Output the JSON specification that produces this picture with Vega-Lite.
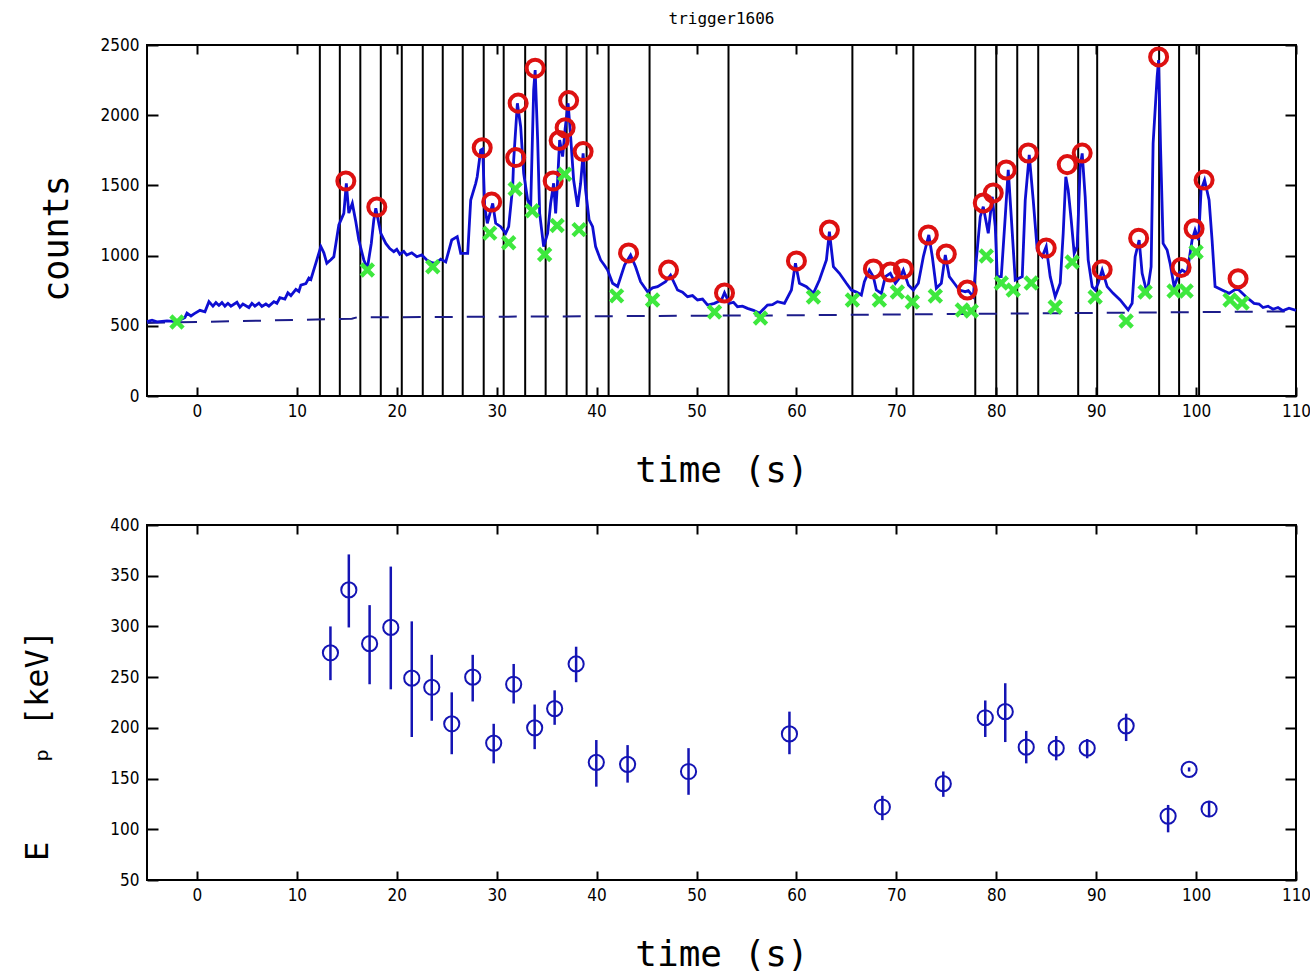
{
  "$schema": "https://vega.github.io/schema/vega-lite/v6.json",
  "padding": {"left": 20, "top": 10, "right": 4, "bottom": 4},
  "bounds": "flush",
  "spacing": 129,
  "background": "white",
  "config": {
    "view": {"stroke": "black", "strokeWidth": 2},
    "axis": {
      "domain": false, "grid": false, "tickColor": "black", "tickWidth": 2, "tickSize": -9,
      "labelFont": "Liberation Sans Narrow, DejaVu Sans Condensed, DejaVu Sans Mono",
      "labelFontSize": 17, "labelColor": "black", "labelFlush": false, "labelOverlap": false, "format": "d",
      "titleFont": "DejaVu Sans Mono", "titleFontWeight": "normal", "titleColor": "black"
    },
    "title": {"font": "DejaVu Sans Mono", "fontSize": 16, "fontWeight": "normal", "color": "black"}
  },
  "datasets": {
    "lc": [
      {"t": -5, "c": 530}, {"t": -4.5, "c": 540}, {"t": -4, "c": 528}, {"t": -3, "c": 535}, {"t": -2, "c": 530}, {"t": -1.2, "c": 560},
      {"t": -1.0, "c": 590}, {"t": -0.6, "c": 570}, {"t": -0.3, "c": 585}, {"t": 0.3, "c": 610}, {"t": 0.8, "c": 600}, {"t": 1.2, "c": 672},
      {"t": 1.6, "c": 640}, {"t": 1.9, "c": 665}, {"t": 2.2, "c": 645}, {"t": 2.5, "c": 665}, {"t": 2.8, "c": 640}, {"t": 3.1, "c": 660}, {"t": 3.4, "c": 640}, {"t": 4.0, "c": 668},
      {"t": 4.3, "c": 632}, {"t": 4.6, "c": 655}, {"t": 5.2, "c": 630}, {"t": 5.5, "c": 660}, {"t": 5.8, "c": 640}, {"t": 6.2, "c": 662}, {"t": 6.5, "c": 638}, {"t": 6.9, "c": 655}, {"t": 7.2, "c": 640},
      {"t": 7.7, "c": 672}, {"t": 8.0, "c": 660}, {"t": 8.3, "c": 700}, {"t": 8.8, "c": 690}, {"t": 9.1, "c": 735}, {"t": 9.4, "c": 715}, {"t": 9.9, "c": 760},
      {"t": 10.2, "c": 745}, {"t": 10.4, "c": 790}, {"t": 10.9, "c": 800}, {"t": 11.2, "c": 840}, {"t": 11.4, "c": 830}, {"t": 11.9, "c": 946}, {"t": 12.4, "c": 1064},
      {"t": 12.7, "c": 1020}, {"t": 13.0, "c": 945}, {"t": 13.4, "c": 970}, {"t": 13.7, "c": 992}, {"t": 14.2, "c": 1218},
      {"t": 14.7, "c": 1301}, {"t": 14.95, "c": 1515}, {"t": 15.2, "c": 1303}, {"t": 15.55, "c": 1372}, {"t": 15.9, "c": 1241},
      {"t": 16.2, "c": 1111}, {"t": 16.7, "c": 969}, {"t": 17.05, "c": 909}, {"t": 17.45, "c": 1087}, {"t": 17.7, "c": 1254},
      {"t": 17.9, "c": 1337}, {"t": 18.4, "c": 1159}, {"t": 18.9, "c": 1087}, {"t": 19.3, "c": 1050}, {"t": 19.7, "c": 1028},
      {"t": 20.0, "c": 1045}, {"t": 20.3, "c": 1010}, {"t": 20.7, "c": 1030}, {"t": 21.0, "c": 1004}, {"t": 21.5, "c": 1020}, {"t": 22.0, "c": 992}, {"t": 22.5, "c": 1005},
      {"t": 23.0, "c": 969}, {"t": 23.5, "c": 950}, {"t": 23.9, "c": 945}, {"t": 24.4, "c": 975}, {"t": 24.9, "c": 955},
      {"t": 25.5, "c": 1111}, {"t": 26.05, "c": 1135}, {"t": 26.4, "c": 1016}, {"t": 27.1, "c": 1016}, {"t": 27.4, "c": 1396},
      {"t": 27.9, "c": 1515}, {"t": 28.05, "c": 1562}, {"t": 28.4, "c": 1752}, {"t": 28.6, "c": 1760}, {"t": 28.8, "c": 1348},
      {"t": 29.06, "c": 1230}, {"t": 29.6, "c": 1372}, {"t": 29.9, "c": 1230}, {"t": 30.4, "c": 1206}, {"t": 30.9, "c": 1159},
      {"t": 31.2, "c": 1206}, {"t": 31.6, "c": 1491}, {"t": 31.7, "c": 1681}, {"t": 32.07, "c": 2085}, {"t": 32.4, "c": 1918},
      {"t": 32.7, "c": 1586}, {"t": 33.1, "c": 1396}, {"t": 33.4, "c": 1348}, {"t": 33.7, "c": 2179}, {"t": 33.85, "c": 2322},
      {"t": 34.1, "c": 1823}, {"t": 34.3, "c": 1301}, {"t": 34.7, "c": 1064}, {"t": 35.1, "c": 1159}, {"t": 35.4, "c": 1372},
      {"t": 35.7, "c": 1515}, {"t": 35.9, "c": 1301}, {"t": 36.1, "c": 1538}, {"t": 36.3, "c": 1823}, {"t": 36.6, "c": 1705},
      {"t": 36.85, "c": 1905}, {"t": 37.15, "c": 2085}, {"t": 37.4, "c": 1847}, {"t": 37.7, "c": 1538}, {"t": 38.1, "c": 1348},
      {"t": 38.4, "c": 1515}, {"t": 38.65, "c": 1728}, {"t": 38.9, "c": 1467}, {"t": 39.25, "c": 1254}, {"t": 39.6, "c": 1206},
      {"t": 39.9, "c": 1064}, {"t": 40.4, "c": 969}, {"t": 40.8, "c": 930}, {"t": 41.1, "c": 897}, {"t": 41.6, "c": 803}, {"t": 42.1, "c": 780},
      {"t": 42.8, "c": 933}, {"t": 43.4, "c": 1004}, {"t": 43.9, "c": 921}, {"t": 44.4, "c": 814}, {"t": 45.1, "c": 743},
      {"t": 45.6, "c": 770}, {"t": 46.1, "c": 779}, {"t": 46.9, "c": 814}, {"t": 47.4, "c": 860}, {"t": 48.1, "c": 755}, {"t": 48.6, "c": 740}, {"t": 49.1, "c": 707},
      {"t": 49.6, "c": 715}, {"t": 50.1, "c": 684}, {"t": 50.6, "c": 690}, {"t": 51.1, "c": 648}, {"t": 51.8, "c": 660}, {"t": 52.5, "c": 684}, {"t": 52.8, "c": 735},
      {"t": 53.3, "c": 660}, {"t": 53.7, "c": 668}, {"t": 54.1, "c": 636}, {"t": 54.6, "c": 640}, {"t": 55.1, "c": 624}, {"t": 55.7, "c": 610}, {"t": 56.3, "c": 589}, {"t": 57.1, "c": 648},
      {"t": 57.6, "c": 650}, {"t": 58.1, "c": 672}, {"t": 58.8, "c": 660}, {"t": 59.5, "c": 755}, {"t": 59.9, "c": 945}, {"t": 60.3, "c": 803},
      {"t": 61.0, "c": 779}, {"t": 61.7, "c": 731}, {"t": 62.3, "c": 826}, {"t": 63.0, "c": 969}, {"t": 63.3, "c": 1170},
      {"t": 63.7, "c": 921}, {"t": 64.3, "c": 874}, {"t": 65.0, "c": 803}, {"t": 65.5, "c": 755}, {"t": 66.0, "c": 740}, {"t": 66.5, "c": 719},
      {"t": 66.8, "c": 814}, {"t": 67.3, "c": 897}, {"t": 67.7, "c": 850}, {"t": 68.0, "c": 755}, {"t": 68.5, "c": 731},
      {"t": 68.9, "c": 850}, {"t": 69.4, "c": 874}, {"t": 69.9, "c": 803}, {"t": 70.4, "c": 850}, {"t": 70.7, "c": 897},
      {"t": 71.2, "c": 791}, {"t": 71.7, "c": 755}, {"t": 72.2, "c": 803}, {"t": 72.7, "c": 992}, {"t": 73.25, "c": 1147},
      {"t": 73.6, "c": 992}, {"t": 74.0, "c": 767}, {"t": 74.5, "c": 803}, {"t": 74.9, "c": 1004}, {"t": 75.3, "c": 850},
      {"t": 75.8, "c": 803}, {"t": 76.3, "c": 755}, {"t": 76.9, "c": 743}, {"t": 77.2, "c": 750}, {"t": 77.7, "c": 707},
      {"t": 78.0, "c": 969}, {"t": 78.4, "c": 1277}, {"t": 78.7, "c": 1348}, {"t": 79.2, "c": 1159}, {"t": 79.6, "c": 1419},
      {"t": 79.9, "c": 1206}, {"t": 80.1, "c": 850}, {"t": 80.5, "c": 850}, {"t": 80.9, "c": 1277}, {"t": 81.2, "c": 1610},
      {"t": 81.5, "c": 1277}, {"t": 81.9, "c": 826}, {"t": 82.6, "c": 850}, {"t": 82.9, "c": 1396}, {"t": 83.3, "c": 1717},
      {"t": 83.7, "c": 1396}, {"t": 84.1, "c": 1040}, {"t": 84.6, "c": 992}, {"t": 85.0, "c": 1064}, {"t": 85.4, "c": 850},
      {"t": 85.9, "c": 707}, {"t": 86.4, "c": 803}, {"t": 86.7, "c": 1159}, {"t": 86.96, "c": 1562}, {"t": 87.2, "c": 1467},
      {"t": 87.5, "c": 1254}, {"t": 87.8, "c": 1016}, {"t": 88.1, "c": 1064}, {"t": 88.4, "c": 1633}, {"t": 88.6, "c": 1728},
      {"t": 88.9, "c": 1420}, {"t": 89.2, "c": 969}, {"t": 89.6, "c": 779}, {"t": 89.9, "c": 755}, {"t": 90.2, "c": 803},
      {"t": 90.6, "c": 897}, {"t": 91.1, "c": 779}, {"t": 91.7, "c": 731}, {"t": 92.4, "c": 684}, {"t": 93.2, "c": 613},
      {"t": 93.6, "c": 660}, {"t": 93.9, "c": 992}, {"t": 94.3, "c": 1111}, {"t": 94.6, "c": 874}, {"t": 95.1, "c": 731},
      {"t": 95.5, "c": 921}, {"t": 95.7, "c": 1800}, {"t": 96.1, "c": 2274}, {"t": 96.25, "c": 2393}, {"t": 96.45, "c": 1752},
      {"t": 96.7, "c": 1087}, {"t": 97.1, "c": 1040}, {"t": 97.4, "c": 945}, {"t": 97.8, "c": 779}, {"t": 98.3, "c": 874},
      {"t": 98.6, "c": 897}, {"t": 99.1, "c": 874}, {"t": 99.6, "c": 1111}, {"t": 99.9, "c": 1182}, {"t": 100.25, "c": 1111},
      {"t": 100.5, "c": 1467}, {"t": 100.85, "c": 1538}, {"t": 101.3, "c": 1396}, {"t": 101.6, "c": 1111}, {"t": 101.9, "c": 779},
      {"t": 102.6, "c": 755}, {"t": 103.3, "c": 731}, {"t": 104.1, "c": 767}, {"t": 105.0, "c": 707}, {"t": 105.8, "c": 660},
      {"t": 106.3, "c": 655}, {"t": 106.7, "c": 630}, {"t": 107.2, "c": 640}, {"t": 107.7, "c": 618}, {"t": 108.2, "c": 630}, {"t": 108.7, "c": 608}, {"t": 109.3, "c": 625}, {"t": 110, "c": 610}
    ],
    "base": [
      {"t": -5, "c": 520}, {"t": 15.5, "c": 550}, {"t": 16.0, "c": 560}, {"t": 60, "c": 575}, {"t": 110, "c": 603}
    ],
    "peaks": [
      {"t": 14.9, "c": 1531}, {"t": 18.0, "c": 1346}, {"t": 28.55, "c": 1768}, {"t": 29.5, "c": 1381}, {"t": 31.9, "c": 1698},
      {"t": 32.15, "c": 2086}, {"t": 33.85, "c": 2335}, {"t": 35.65, "c": 1531}, {"t": 36.25, "c": 1820}, {"t": 36.85, "c": 1911},
      {"t": 37.2, "c": 2104}, {"t": 38.65, "c": 1741}, {"t": 43.2, "c": 1019}, {"t": 47.2, "c": 897}, {"t": 52.8, "c": 734},
      {"t": 60.0, "c": 962}, {"t": 63.3, "c": 1182}, {"t": 67.7, "c": 905}, {"t": 69.4, "c": 883}, {"t": 70.7, "c": 905},
      {"t": 73.2, "c": 1147}, {"t": 75.0, "c": 1011}, {"t": 77.1, "c": 755}, {"t": 78.7, "c": 1375}, {"t": 79.7, "c": 1446},
      {"t": 81.0, "c": 1610}, {"t": 83.2, "c": 1731}, {"t": 85.0, "c": 1054}, {"t": 87.1, "c": 1648}, {"t": 88.6, "c": 1730},
      {"t": 90.6, "c": 900}, {"t": 94.25, "c": 1124}, {"t": 96.25, "c": 2415}, {"t": 98.5, "c": 916}, {"t": 99.8, "c": 1191},
      {"t": 100.8, "c": 1538}, {"t": 104.2, "c": 835}
    ],
    "valleys": [
      {"t": -2.0, "c": 527}, {"t": 17.05, "c": 897}, {"t": 23.6, "c": 920}, {"t": 29.3, "c": 1160}, {"t": 31.2, "c": 1092},
      {"t": 31.85, "c": 1474}, {"t": 33.55, "c": 1319}, {"t": 34.8, "c": 1008}, {"t": 36.05, "c": 1215}, {"t": 36.8, "c": 1580},
      {"t": 38.25, "c": 1185}, {"t": 42.0, "c": 713}, {"t": 45.6, "c": 684}, {"t": 51.8, "c": 598}, {"t": 56.4, "c": 556},
      {"t": 61.7, "c": 705}, {"t": 65.6, "c": 684}, {"t": 68.3, "c": 684}, {"t": 70.1, "c": 741}, {"t": 71.6, "c": 669},
      {"t": 73.9, "c": 712}, {"t": 76.6, "c": 613}, {"t": 77.5, "c": 605}, {"t": 79.0, "c": 997}, {"t": 80.5, "c": 805},
      {"t": 81.7, "c": 755}, {"t": 83.5, "c": 805}, {"t": 85.9, "c": 634}, {"t": 87.6, "c": 954}, {"t": 89.9, "c": 705},
      {"t": 93.0, "c": 534}, {"t": 94.9, "c": 741}, {"t": 97.8, "c": 748}, {"t": 99.0, "c": 748}, {"t": 100.0, "c": 1026},
      {"t": 103.4, "c": 684}, {"t": 104.6, "c": 662}
    ],
    "bounds": [
      {"t": 12.3}, {"t": 14.3}, {"t": 16.35}, {"t": 18.4}, {"t": 20.5}, {"t": 22.6}, {"t": 24.6}, {"t": 26.6},
      {"t": 28.7}, {"t": 30.7}, {"t": 32.85}, {"t": 34.9}, {"t": 37.0}, {"t": 39.0}, {"t": 41.2}, {"t": 45.3},
      {"t": 53.2}, {"t": 65.6}, {"t": 71.7}, {"t": 77.9}, {"t": 80.0}, {"t": 82.1}, {"t": 84.2}, {"t": 88.2},
      {"t": 90.1}, {"t": 96.3}, {"t": 98.3}, {"t": 100.3}
    ],
    "ep": [
      {"t": 13.36, "ep": 274, "lo": 247, "hi": 300}, {"t": 15.2, "ep": 336, "lo": 299, "hi": 371},
      {"t": 17.28, "ep": 283, "lo": 243, "hi": 321}, {"t": 19.4, "ep": 299, "lo": 238, "hi": 359},
      {"t": 21.5, "ep": 249, "lo": 191, "hi": 305}, {"t": 23.5, "ep": 240, "lo": 207, "hi": 272},
      {"t": 25.5, "ep": 204, "lo": 174, "hi": 235}, {"t": 27.6, "ep": 250, "lo": 226, "hi": 272},
      {"t": 29.7, "ep": 185, "lo": 165, "hi": 204}, {"t": 31.7, "ep": 243, "lo": 224, "hi": 263},
      {"t": 33.8, "ep": 200, "lo": 179, "hi": 223}, {"t": 35.8, "ep": 219, "lo": 203, "hi": 237},
      {"t": 37.95, "ep": 263, "lo": 245, "hi": 280}, {"t": 39.97, "ep": 166, "lo": 142, "hi": 188},
      {"t": 43.1, "ep": 164, "lo": 146, "hi": 183}, {"t": 49.2, "ep": 157, "lo": 134, "hi": 180},
      {"t": 59.3, "ep": 194, "lo": 174, "hi": 216}, {"t": 68.6, "ep": 122, "lo": 109, "hi": 133},
      {"t": 74.7, "ep": 145, "lo": 132, "hi": 157}, {"t": 78.9, "ep": 210, "lo": 191, "hi": 227},
      {"t": 80.9, "ep": 216, "lo": 186, "hi": 244}, {"t": 83.0, "ep": 181, "lo": 165, "hi": 197},
      {"t": 86.0, "ep": 180, "lo": 168, "hi": 192}, {"t": 89.1, "ep": 180, "lo": 170, "hi": 189},
      {"t": 93.0, "ep": 202, "lo": 187, "hi": 214}, {"t": 97.2, "ep": 113, "lo": 97, "hi": 124},
      {"t": 99.3, "ep": 159, "lo": 157, "hi": 161}, {"t": 101.3, "ep": 120, "lo": 112, "hi": 128}
    ]
  },
  "vconcat": [
    {
      "width": 1149,
      "height": 351,
      "title": {"text": "trigger1606", "offset": 9},
      "resolve": {"axis": {"x": "independent", "y": "independent"}},
      "layer": [
        {
          "data": {"name": "bounds"},
          "mark": {"type": "rule", "color": "black", "strokeWidth": 2},
          "encoding": {
            "x": {"field": "t", "type": "quantitative", "scale": {"domain": [-5, 110], "nice": false, "zero": false},
                  "axis": {"orient": "top", "labels": false, "title": null, "values": [0, 10, 20, 30, 40, 50, 60, 70, 80, 90, 100, 110]}}
          }
        },
        {
          "data": {"name": "base"},
          "mark": {"type": "line", "color": "#1c1c8a", "strokeWidth": 2, "strokeDash": [18, 14]},
          "encoding": {
            "x": {"field": "t", "type": "quantitative", "axis": null},
            "y": {"field": "c", "type": "quantitative", "scale": {"domain": [0, 2500], "nice": false, "zero": false},
                  "axis": {"orient": "right", "labels": false, "title": null, "values": [0, 500, 1000, 1500, 2000, 2500], "tickSize": -11}}
          }
        },
        {
          "data": {"name": "lc"},
          "mark": {"type": "line", "color": "#0e0ed2", "strokeWidth": 2.8},
          "encoding": {
            "x": {"field": "t", "type": "quantitative",
                  "axis": {"orient": "bottom", "title": "time\u00a0(s)", "titleFontSize": 36, "titlePadding": 34, "labelPadding": 16, "values": [0, 10, 20, 30, 40, 50, 60, 70, 80, 90, 100, 110]}},
            "y": {"field": "c", "type": "quantitative",
                  "axis": {"orient": "left", "title": "counts", "titleFontSize": 35, "titleX": -73, "titleY": 193, "labelPadding": 19, "tickSize": -11, "values": [0, 500, 1000, 1500, 2000, 2500]}}
          }
        },
        {
          "data": {"name": "peaks"},
          "mark": {"type": "point", "shape": "circle", "filled": false, "color": "#dd1111", "strokeWidth": 4, "size": 290, "opacity": 1},
          "encoding": {
            "x": {"field": "t", "type": "quantitative", "axis": null},
            "y": {"field": "c", "type": "quantitative", "axis": null}
          }
        },
        {
          "data": {"name": "valleys"},
          "mark": {"type": "point", "shape": "M-1,-1L1,1M-1,1L1,-1", "filled": false, "color": "#3ee83e", "strokeWidth": 4.5, "size": 150, "opacity": 1},
          "encoding": {
            "x": {"field": "t", "type": "quantitative", "axis": null},
            "y": {"field": "c", "type": "quantitative", "axis": null}
          }
        }
      ]
    },
    {
      "width": 1149,
      "height": 355,
      "resolve": {"axis": {"x": "independent", "y": "independent"}},
      "layer": [
        {
          "data": {"name": "ep"},
          "mark": {"type": "rule", "color": "#1414b4", "strokeWidth": 2.5},
          "encoding": {
            "x": {"field": "t", "type": "quantitative", "scale": {"domain": [-5, 110], "nice": false, "zero": false},
                  "axis": {"orient": "top", "labels": false, "title": null, "values": [0, 10, 20, 30, 40, 50, 60, 70, 80, 90, 100, 110]}},
            "y": {"field": "lo", "type": "quantitative", "scale": {"domain": [50, 400], "nice": false, "zero": false},
                  "axis": {"orient": "right", "labels": false, "title": null, "tickSize": -11, "values": [50, 100, 150, 200, 250, 300, 350, 400]}},
            "y2": {"field": "hi"}
          }
        },
        {
          "data": {"name": "ep"},
          "mark": {"type": "point", "shape": "circle", "filled": false, "color": "#1414b4", "strokeWidth": 2, "size": 230, "opacity": 1},
          "encoding": {
            "x": {"field": "t", "type": "quantitative",
                  "axis": {"orient": "bottom", "title": "time\u00a0(s)", "titleFontSize": 36, "titlePadding": 34, "labelPadding": 16, "values": [0, 10, 20, 30, 40, 50, 60, 70, 80, 90, 100, 110]}},
            "y": {"field": "ep", "type": "quantitative",
                  "axis": {"orient": "left", "title": "E\u00a0\u00a0\u00a0\u00a0\u209a\u00a0[keV]", "titleFontSize": 32, "titleX": -93, "titleY": 220, "labelPadding": 19, "tickSize": -11, "values": [50, 100, 150, 200, 250, 300, 350, 400]}}
          }
        }
      ]
    }
  ]
}
